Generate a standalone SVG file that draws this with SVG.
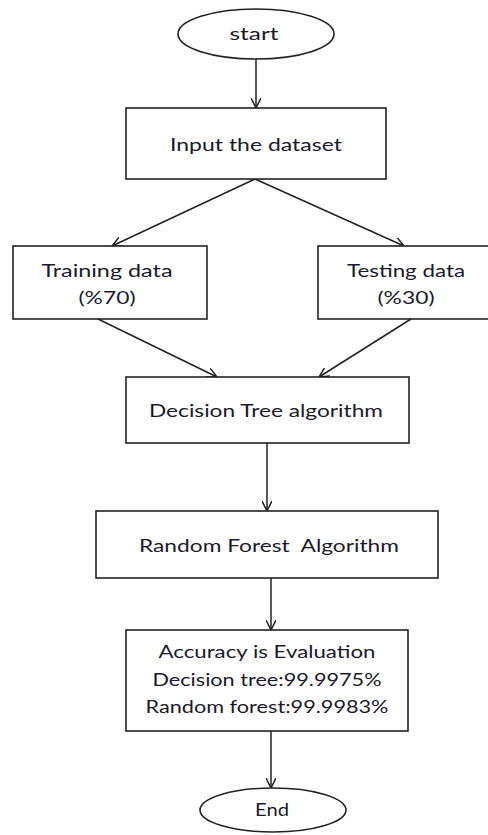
<svg xmlns="http://www.w3.org/2000/svg" width="488" height="835" viewBox="0 0 488 835">
<style>
.box{fill:#fff;stroke:#222;stroke-width:1.6}
.t{font-family:Lato,"Open Sans","Liberation Sans",sans-serif;font-size:18px;fill:#1a1a2a;text-anchor:middle}
.c{stroke:#222;stroke-width:1.5;fill:none;marker-end:url(#ah)}
</style>
<defs>
<marker id="ah" viewBox="0 0 10 10" refX="10" refY="5" markerWidth="10" markerHeight="10" markerUnits="userSpaceOnUse" orient="auto">
<path d="M0,0 L10,5 L0,10" fill="none" stroke="#222" stroke-width="1.5"/>
</marker>
</defs>
<rect width="488" height="835" fill="#fff"/>
<g id="connectors">
<line class="c" x1="256" y1="59" x2="256" y2="108"/>
<line class="c" x1="255" y1="179" x2="112" y2="246"/>
<line class="c" x1="255" y1="179" x2="404" y2="246"/>
<line class="c" x1="98" y1="319" x2="217" y2="377"/>
<line class="c" x1="411" y1="319" x2="319" y2="377"/>
<line class="c" x1="267" y1="443" x2="267" y2="511"/>
<line class="c" x1="271" y1="578" x2="271" y2="630"/>
<line class="c" x1="271" y1="731" x2="271" y2="788"/>
</g>
<g id="start">
<ellipse class="box" cx="256" cy="34" rx="78" ry="25"/>
<text class="t" x="254" y="40" textLength="49" lengthAdjust="spacingAndGlyphs">start</text>
</g>
<g id="input">
<rect class="box" x="126" y="108" width="260" height="71"/>
<text class="t" x="256" y="151" textLength="172" lengthAdjust="spacingAndGlyphs">Input the dataset</text>
</g>
<g id="training">
<rect class="box" x="13" y="246" width="194" height="73"/>
<text class="t" x="107" y="277" textLength="131" lengthAdjust="spacingAndGlyphs">Training data</text>
<text class="t" x="107" y="304" textLength="57" lengthAdjust="spacingAndGlyphs">(%70)</text>
</g>
<g id="testing">
<rect class="box" x="318" y="246" width="182" height="73"/>
<text class="t" x="406" y="277" textLength="118" lengthAdjust="spacingAndGlyphs">Testing data</text>
<text class="t" x="406" y="304" textLength="57" lengthAdjust="spacingAndGlyphs">(%30)</text>
</g>
<g id="decision">
<rect class="box" x="126" y="377" width="283" height="66"/>
<text class="t" x="266" y="417" textLength="234" lengthAdjust="spacingAndGlyphs">Decision Tree algorithm</text>
</g>
<g id="forest">
<rect class="box" x="96" y="511" width="342" height="67"/>
<text class="t" x="269" y="552" textLength="260" lengthAdjust="spacingAndGlyphs" style="white-space:pre">Random Forest  Algorithm</text>
</g>
<g id="accuracy">
<rect class="box" x="126" y="630" width="282" height="101"/>
<text class="t" x="267" y="658" textLength="217" lengthAdjust="spacingAndGlyphs">Accuracy is Evaluation</text>
<text class="t" x="267" y="686" textLength="229" lengthAdjust="spacingAndGlyphs">Decision tree:99.9975%</text>
<text class="t" x="267" y="713" textLength="243" lengthAdjust="spacingAndGlyphs">Random forest:99.9983%</text>
</g>
<g id="end">
<ellipse class="box" cx="273" cy="810" rx="73" ry="22"/>
<text class="t" x="272" y="816" textLength="34" lengthAdjust="spacingAndGlyphs">End</text>
</g>
</svg>
